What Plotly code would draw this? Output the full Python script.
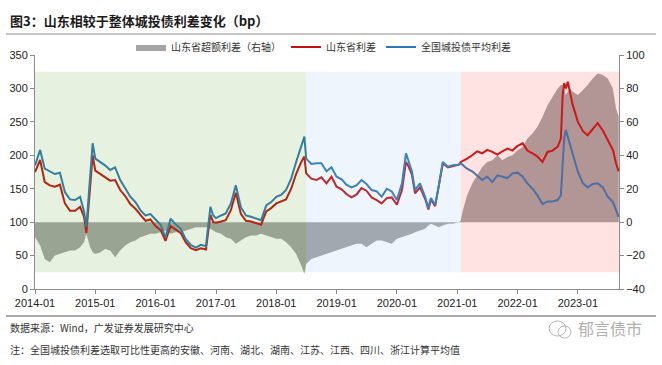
import plotly.graph_objects as go

# ---------------- data ----------------
dates = [
    "2014-01-01", "2014-02-01", "2014-03-01", "2014-04-01", "2014-05-01", "2014-06-01",
    "2014-07-01", "2014-08-01", "2014-09-01", "2014-10-01", "2014-10-25", "2014-11-08",
    "2014-12-01", "2014-12-16",
    "2015-01-01", "2015-02-01", "2015-03-01", "2015-04-01", "2015-05-01", "2015-06-01",
    "2015-07-01", "2015-08-01", "2015-09-01", "2015-10-01", "2015-11-01", "2015-12-01",
    "2016-01-01", "2016-02-01", "2016-03-01", "2016-04-01", "2016-05-01", "2016-06-01",
    "2016-07-01", "2016-08-01", "2016-09-01", "2016-10-01", "2016-11-01", "2016-11-28",
    "2016-12-15",
    "2017-01-01", "2017-02-01", "2017-03-01", "2017-04-01", "2017-05-01", "2017-06-01",
    "2017-07-01", "2017-08-01", "2017-09-01", "2017-10-01", "2017-11-01", "2017-12-01",
    "2018-01-01", "2018-02-01", "2018-03-01", "2018-04-01", "2018-05-01", "2018-06-01",
    "2018-06-20", "2018-07-01", "2018-08-01", "2018-09-01", "2018-10-01", "2018-11-01",
    "2018-12-01",
    "2019-01-01", "2019-02-01", "2019-03-01", "2019-04-01", "2019-05-01", "2019-06-01",
    "2019-07-01", "2019-08-01", "2019-09-01", "2019-10-01", "2019-11-01", "2019-12-01",
    "2020-01-01", "2020-02-01", "2020-02-25", "2020-03-10", "2020-04-01", "2020-04-20",
    "2020-05-20", "2020-06-20", "2020-07-10", "2020-07-25", "2020-08-20", "2020-09-10",
    "2020-10-05", "2020-11-05", "2020-12-05", "2021-01-10", "2021-01-22",
    "2021-02-01", "2021-03-01", "2021-04-01", "2021-05-01", "2021-06-01", "2021-07-01",
    "2021-08-01", "2021-09-01", "2021-10-01", "2021-11-01", "2021-12-01",
    "2022-01-01", "2022-02-01", "2022-03-01", "2022-04-01", "2022-05-01", "2022-06-01",
    "2022-07-01", "2022-08-01", "2022-09-01", "2022-09-20", "2022-10-01", "2022-10-10",
    "2022-10-20", "2022-11-01", "2022-11-15", "2022-12-01",
    "2023-01-01", "2023-02-01", "2023-03-01", "2023-04-01", "2023-05-01", "2023-06-01",
    "2023-07-01", "2023-08-01", "2023-08-20", "2023-09-05",
]

national = [
    185, 208, 180, 176, 172, 174, 145, 134, 133, 138, 116, 93, 168, 218,
    195, 190, 185, 178, 182, 163, 150, 138, 130, 118, 110, 112,
    104, 96, 77, 105, 97, 90, 75, 66, 62, 66, 64, 123, 110,
    106, 110, 113, 128, 155, 122, 110, 108, 106, 103, 125, 130,
    138, 141, 148, 165, 190, 215, 228, 195, 187, 188, 188, 176, 182,
    168, 164, 156, 152, 155, 163, 157, 148, 146, 138, 150, 146,
    133, 158, 203, 192, 176, 148, 158, 138, 121, 136, 126, 153, 190, 183, 185, 186, 188,
    186, 180, 176, 170, 163, 168, 160, 170, 168, 166, 173,
    174, 168, 158, 150, 140, 127, 131, 131, 133, 140, 190, 225, 238, 228, 215, 200,
    175, 158, 152, 157, 158, 152, 138, 130, 118, 108,
]

shandong = [
    175, 193, 160, 155, 153, 156, 128, 117, 117, 123, 108, 84, 153, 200,
    177, 172, 168, 162, 163, 148, 139, 127, 120, 111, 102, 104,
    94, 88, 72, 94, 89, 84, 70, 61, 58, 61, 59, 111, 100,
    99, 101, 103, 118, 144, 112, 102, 101, 99, 96, 116, 121,
    128, 131, 134, 150, 172, 190, 198, 173, 165, 163, 167, 158, 168,
    153, 149, 142, 137, 141, 151, 147, 137, 133, 128, 136, 137,
    126, 148, 190, 184, 171, 143, 152, 135, 119, 134, 124, 151, 188, 182, 184, 186, 190,
    191, 195, 200, 206, 203, 208, 205, 201, 206, 210, 207,
    214, 218, 207, 203, 198, 190, 205, 207, 213, 225, 290, 308, 300, 310, 295, 275,
    250, 236, 230, 240, 248, 237, 222, 208, 188, 176,
]

excess = [
    -9, -14, -22, -24, -20, -19, -18, -17, -17, -15, -12, -7, -15, -18,
    -19, -18, -16, -17, -21, -17, -14, -12, -11, -9, -8, -7,
    -7, -6, -5, -7, -6, -6, -5, -4, -3, -3, -3, -4, -5,
    -6, -7, -9, -10, -13, -11, -9, -8, -8, -7, -8, -9,
    -10, -10, -12, -15, -19, -26, -31, -25, -22, -21, -20, -19, -18,
    -17, -16, -15, -14, -13, -13, -15, -13, -11, -11, -12, -13,
    -10, -9, -8, -8, -7, -6, -5, -4, -2, -1, -2, -3, -2, -1, -1, 0, 1,
    6, 16, 23, 28, 33, 36, 37, 40, 37, 39, 40,
    43, 45, 50, 53, 57, 63, 70, 75, 80, 82, 82, 80, 76, 78, 80, 78,
    76, 79, 82, 86, 89, 88, 86, 80, 68, 63,
]

tick_dates = ["2014-01-01", "2015-01-01", "2016-01-01", "2017-01-01", "2018-01-01",
              "2019-01-01", "2020-01-01", "2021-01-01", "2022-01-01", "2023-01-01"]
tick_labels = ["2014-01", "2015-01", "2016-01", "2017-01", "2018-01",
               "2019-01", "2020-01", "2021-01", "2022-01", "2023-01"]

series_names = ["山东省超额利差（右轴）", "山东省利差", "全国城投债平均利差"]

# period bands (left-axis units)
band_starts = ["2014-01-01", "2018-07-01", "2021-01-22"]
band_ends = ["2018-07-01", "2021-01-22", "2023-09-07"]
band_colors = ["rgba(90,160,40,0.15)", "rgba(150,185,235,0.15)", "rgba(255,70,70,0.15)"]
band_low, band_high = 25, 325

# ---------------- figure ----------------
CJK = "Noto Sans CJK SC"
NUM = "Liberation Sans, Arial, " + CJK

fig = go.Figure()
# gray area on the base (right-hand) axis so the lines on the overlay axis draw above it
fig.add_trace(go.Scatter(
    x=dates, y=excess, name=series_names[0], yaxis="y",
    mode="lines", fill="tozeroy", line=dict(width=0, color="rgb(165,165,165)"),
    fillcolor="rgb(165,165,165)",
))
fig.add_trace(go.Scatter(
    x=dates, y=shandong, name=series_names[1], mode="lines", yaxis="y2",
    line=dict(color="rgb(200,15,15)", width=2),
))
fig.add_trace(go.Scatter(
    x=dates, y=national, name=series_names[2], mode="lines", yaxis="y2",
    line=dict(color="rgb(45,120,180)", width=2),
))

shapes = []
for s, e, c in zip(band_starts, band_ends, band_colors):
    shapes.append(dict(type="rect", xref="x", yref="y2", x0=s, x1=e, y0=band_low, y1=band_high,
                       fillcolor=c, line=dict(width=0), layer="above"))

# paper coords: plot area is x 35..619 px, y 55..289 px
def px_x(p):
    return (p - 35) / 584.0

def px_y(p):
    return (289 - p) / 234.0

shapes.append(dict(type="line", xref="paper", yref="paper", x0=px_x(6), x1=px_x(656),
                   y0=px_y(34), y1=px_y(34), line=dict(color="#8c8c8c", width=1)))
shapes.append(dict(type="line", xref="paper", yref="paper", x0=px_x(6), x1=px_x(656),
                   y0=px_y(316), y1=px_y(316), line=dict(color="#555555", width=1)))
# watermark icon
shapes.append(dict(type="circle", xref="paper", yref="paper", x0=px_x(549), x1=px_x(566),
                   y0=px_y(336), y1=px_y(321), line=dict(color="#b5b5b5", width=1)))
shapes.append(dict(type="circle", xref="paper", yref="paper", x0=px_x(558), x1=px_x(571),
                   y0=px_y(338), y1=px_y(326), line=dict(color="#b5b5b5", width=1)))

annotations = [
    dict(text="<b>图3：山东相较于整体城投债利差变化（bp）</b>", xref="paper", yref="paper",
         x=px_x(8), y=px_y(20), xanchor="left", yanchor="middle", showarrow=False,
         font=dict(family=CJK, size=13, color="#1a1a1a")),
    dict(text="数据来源：Wind，广发证券发展研究中心", xref="paper", yref="paper",
         x=px_x(8), y=px_y(327), xanchor="left", yanchor="middle", showarrow=False,
         font=dict(family=CJK, size=10, color="#333333")),
    dict(text="注：全国城投债利差选取可比性更高的安徽、河南、湖北、湖南、江苏、江西、四川、浙江计算平均值",
         xref="paper", yref="paper",
         x=px_x(8), y=px_y(349), xanchor="left", yanchor="middle", showarrow=False,
         font=dict(family=CJK, size=10, color="#333333")),
    dict(text="郁言债市", xref="paper", yref="paper",
         x=px_x(576), y=px_y(328), xanchor="left", yanchor="middle", showarrow=False,
         font=dict(family=CJK, size=16, color="#b0b0b0")),
]

axis_common = dict(showline=True, linecolor="#8c8c8c", linewidth=1, ticks="outside",
                   ticklen=4, tickcolor="#8c8c8c", showgrid=False, zeroline=False,
                   automargin=False,
                   tickfont=dict(family=NUM, size=11, color="#222222"))

fig.update_layout(
    width=662, height=365,
    margin=dict(l=35, r=43, t=55, b=76),
    plot_bgcolor="white", paper_bgcolor="white",
    font=dict(family=NUM, size=11, color="#333333"),
    xaxis=dict(type="date", range=["2014-01-01", "2023-09-07"],
               tickmode="array", tickvals=tick_dates, ticktext=tick_labels, **axis_common),
    yaxis=dict(range=[-40, 100], tickmode="linear", tick0=-40, dtick=20,
               side="right", **axis_common),
    yaxis2=dict(range=[0, 350], tickmode="linear", tick0=0, dtick=50,
                overlaying="y", side="left", **axis_common),
    legend=dict(orientation="h", x=px_x(131), y=px_y(47), xanchor="left", yanchor="middle",
                font=dict(family=CJK, size=10, color="#333333"), bgcolor="rgba(0,0,0,0)",
                itemwidth=30, tracegroupgap=0),
    shapes=shapes,
    annotations=annotations,
    showlegend=True,
)

fig.write_html("out.html", config={"displayModeBar": False},
               post_script="document.body.style.margin='0';document.body.style.padding='0';")
